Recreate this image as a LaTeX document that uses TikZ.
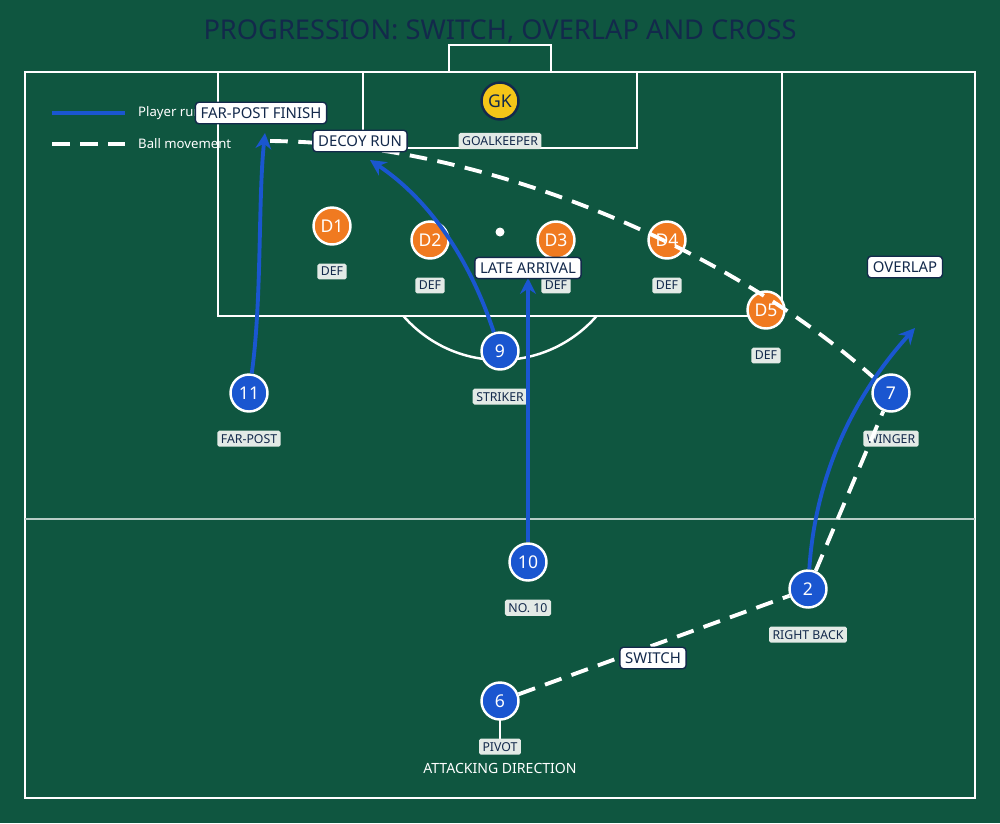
\documentclass[tikz,border=0pt]{standalone}
\usepackage{fontspec}
\setmainfont{Noto Sans}
\usetikzlibrary{positioning, arrows.meta}
\definecolor{pitch}{HTML}{0F5640}
\definecolor{runblue}{HTML}{1A56D0}
\definecolor{defor}{HTML}{F07A20}
\definecolor{gkyel}{HTML}{F5C518}
\definecolor{navy}{HTML}{13294B}
\definecolor{tagbg}{HTML}{E3EAE6}

\begin{document}
\begin{tikzpicture}[x=0.02cm, y=-0.02cm,
  line/.style={white, line width=1.4pt},
  player/.style={circle, draw=white, line width=1.4pt, fill=runblue, minimum size=0.74cm, inner sep=0pt, text=white, font=\bfseries\fontsize{10}{12}\selectfont},
  def/.style={player, fill=defor},
  keeper/.style={player, fill=gkyel, draw=navy, text=navy},
  tag/.style={fill=tagbg, rounded corners=1pt, inner sep=2pt, text=navy, font=\bfseries\fontsize{7}{8}\selectfont},
  callout/.style={fill=white, draw=navy, line width=0.8pt, rounded corners=2pt, inner sep=3pt, text=navy, font=\bfseries\fontsize{8.5}{10}\selectfont},
  run/.style={runblue, line width=2.2pt, -{Stealth[length=9pt,width=9pt]}},
  ball/.style={white, line width=2.2pt, dash pattern=on 10pt off 6pt}]

\fill[pitch] (0,0) rectangle (1000,823);
\useasboundingbox (0,0) rectangle (1000,823);

% pitch markings
\draw[line] (25,72) rectangle (975,798);
\draw[white!70!pitch, line width=0.8pt] (25,519) -- (975,519);
\draw[line] (218,72) rectangle (782,316);
\draw[line] (363,72) rectangle (637,148);
\draw[line] (449,45) rectangle (551,72);
\fill[white] (500,232) circle (4.5);
\begin{scope}
  \clip (218,316) rectangle (782,500);
  \draw[line] (500,232) circle (128);
\end{scope}

\node[text=navy, font=\bfseries\fontsize{15.5}{18}\selectfont] (title) at (500,31) {PROGRESSION: SWITCH, OVERLAP AND CROSS};

% legend
\coordinate (la) at (52,113); \coordinate (lb) at (125,113);
\coordinate (lc) at (52,144); \coordinate (ld) at (125,144);
\draw[runblue, line width=2.2pt] (la) -- (lb);
\draw[ball] (lc) -- (ld);
\node[anchor=west, text=white, font=\bfseries\fontsize{7.5}{9}\selectfont] (lrun) at (132,113) {Player run};
\node[anchor=west, text=white, font=\bfseries\fontsize{7.5}{9}\selectfont] (lball) at (132,144) {Ball movement};

% run / pass targets
\coordinate (fp) at (265,133);
\coordinate (dr) at (370,160);
\coordinate (ov) at (915,328);
\coordinate (cr) at (263,141);
\coordinate (adir) at (500,740);

% players
\node[keeper] (gk) at (500,101) {GK};
\node[tag] (gkt) at (500,141) {GOALKEEPER};
\foreach \n/\x/\y in {1/332/226, 2/430/240, 3/556/240, 4/667/240, 5/766/310}{
  \node[def] (d\n) at (\x,\y) {D\n};
  \node[tag, below=10pt of d\n] (dt\n) {DEF};
}
\draw[white, line width=1.4pt] (adir) -- (500,690);
\node[player] (p11) at (249,393) {11};
\node[player] (p9) at (500,351) {9};
\node[player] (p7) at (891,393) {7};
\node[player] (p10) at (528,562) {10};
\node[player] (p2) at (808,589) {2};
\node[player] (p6) at (500,701) {6};
\node[tag, below=10pt of p11] (t11) {FAR-POST};
\node[tag, below=10pt of p9] (t9) {STRIKER};
\node[tag, below=10pt of p7] (t7) {WINGER};
\node[tag, below=10pt of p10] (t10) {NO. 10};
\node[tag, below=10pt of p2] (t2) {RIGHT BACK};
\node[tag, below=10pt of p6] (t6) {PIVOT};
\node[text=white, font=\bfseries\fontsize{8}{10}\selectfont] (att) at (500,768) {ATTACKING DIRECTION};

% ball movement
\draw[ball] (p6) -- (p2);
\draw[ball] (p2) -- (p7);
\draw[ball] (p7) .. controls (720,240) and (470,140) .. (cr);

% player runs
\draw[run] (p11) .. controls (262,300) and (258,200) .. (fp);
\draw[run] (p9) .. controls (470,260) and (430,200) .. (dr);
\draw[run] (p10) -- (528,278);
\draw[run] (p2) .. controls (815,480) and (850,400) .. (ov);

% callouts
\node[callout] (cfp) at (261,113) {FAR-POST FINISH};
\node[callout] (cdr) at (360,141) {DECOY RUN};
\node[callout] (cla) at (528,268) {LATE ARRIVAL};
\node[callout] (cov) at (905,267) {OVERLAP};
\node[callout] (csw) at (653,658) {SWITCH};
\end{tikzpicture}
\end{document}
